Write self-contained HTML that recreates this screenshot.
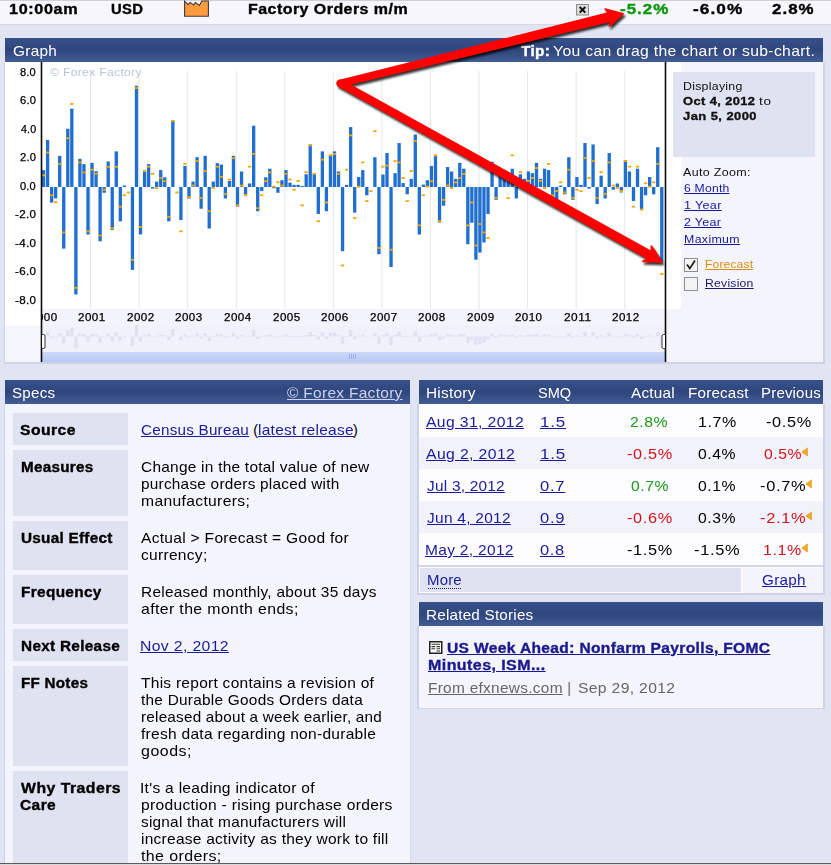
<!DOCTYPE html>
<html><head><meta charset="utf-8"><title>Factory Orders m/m</title>
<style>
html,body{margin:0;padding:0}
body{width:831px;height:865px;overflow:hidden;background:#e1e4f2;position:relative;font-family:"Liberation Sans",sans-serif;}
.r{position:absolute;display:block}
.t{position:absolute;white-space:pre;display:block;transform-origin:0 0}
</style></head><body>
<div class="r" style="left:0px;top:0px;width:831px;height:25px;background:#f6f6fc;border-top:1px solid #cfcfd8;border-bottom:1px solid #d6d8e8;box-sizing:border-box;"></div>
<span class="t" style="left:9.23px;top:0px;font-size:14.3px;line-height:18px;letter-spacing:0.553px;color:#000;transform:scaleX(1.1324);font-weight:bold;-webkit-text-stroke:0.35px #000;">10:00am</span>
<span class="t" style="left:111.34px;top:0px;font-size:14.3px;line-height:18px;letter-spacing:0.322px;color:#000;transform:scaleX(1.0357);font-weight:bold;-webkit-text-stroke:0.35px #000;">USD</span>
<span class="t" style="left:247.91px;top:0px;font-size:14.3px;line-height:18px;letter-spacing:0.415px;color:#000;transform:scaleX(1.1168);font-weight:bold;-webkit-text-stroke:0.35px #000;">Factory Orders m/m</span>
<span class="t" style="left:620.34px;top:0px;font-size:14.3px;line-height:18px;letter-spacing:0.830px;color:#0a960a;transform:scaleX(1.1853);font-weight:bold;-webkit-text-stroke:0.35px #0a960a;">-5.2%</span>
<span class="t" style="left:693.23px;top:0px;font-size:14.3px;line-height:18px;letter-spacing:0.875px;color:#000;transform:scaleX(1.2041);font-weight:bold;-webkit-text-stroke:0.35px #000;">-6.0%</span>
<span class="t" style="left:771.60px;top:0px;font-size:14.3px;line-height:18px;letter-spacing:0.889px;color:#000;transform:scaleX(1.1804);font-weight:bold;-webkit-text-stroke:0.35px #000;">2.8%</span>
<svg class="r" style="left:183px;top:0px" width="28" height="18" viewBox="0 0 28 18"><path d="M1.6 1.2 L5.2 4.6 L7 2.4 L10.6 5 L12.4 2.6 L16.4 5.4 L18.8 1 L25.4 1 L25.4 16.3 L1.6 16.3 Z" fill="#ff9a3e" stroke="#3c3c3c" stroke-width="1.1" stroke-linejoin="miter"/></svg>
<svg class="r" style="left:576px;top:4px" width="13" height="12" viewBox="0 0 13 12"><rect x="0.5" y="0.5" width="12" height="10.5" fill="#dcdcdc" stroke="#8c8c8c"/><path d="M3.7 3 L9.3 8.6 M9.3 3 L3.7 8.6" stroke="#111" stroke-width="2"/></svg>
<div class="r" style="left:5px;top:38px;width:818px;height:24px;background:linear-gradient(#38518a 0%,#2f467d 50%,#435c95 100%);"></div>
<span class="t" style="left:12.75px;top:42px;font-size:14.3px;line-height:18px;letter-spacing:0.279px;color:#fff;transform:scaleX(1.0730);">Graph</span>
<span class="t" style="left:521.14px;top:42px;font-size:14.3px;line-height:18px;letter-spacing:0.341px;color:#fff;transform:scaleX(1.0751);font-weight:bold;-webkit-text-stroke:0.35px #fff;">Tip:</span>
<span class="t" style="left:553.33px;top:42px;font-size:14.3px;line-height:18px;letter-spacing:0.289px;color:#fff;transform:scaleX(1.1020);">You can drag the chart or sub-chart.</span>
<div class="r" style="left:3.8px;top:62px;width:821.5px;height:301.6px;background:#cfd1e4;"></div>
<div class="r" style="left:5px;top:62px;width:818px;height:300px;background:#f4f4fc;"></div>
<div class="r" style="left:5px;top:62px;width:676px;height:247px;background:#fff;"></div>
<div class="r" style="left:5px;top:309px;width:36px;height:17px;background:#fff;"></div>
<div class="r" style="left:5px;top:326px;width:36px;height:36px;background:#f5f5fd;"></div>
<div class="r" style="left:42px;top:309px;width:624px;height:17px;background:#f3f3fb;"></div>
<div class="r" style="left:42px;top:326px;width:624px;height:26px;background:#f0f1fb;"></div>
<div class="r" style="left:42px;top:352px;width:624px;height:10px;background:linear-gradient(#ccd8fb,#b9c9f6);"></div>
<div class="r" style="left:667px;top:309px;width:14px;height:53px;background:#f4f4fc;"></div>
<svg class="r" style="left:0;top:0" width="831" height="400" viewBox="0 0 831 400"><rect x="90.10" y="71" width="1" height="238" fill="#e6e6e6"/><rect x="138.65" y="71" width="1" height="238" fill="#e6e6e6"/><rect x="187.20" y="71" width="1" height="238" fill="#e6e6e6"/><rect x="235.75" y="71" width="1" height="238" fill="#e6e6e6"/><rect x="284.30" y="71" width="1" height="238" fill="#e6e6e6"/><rect x="332.85" y="71" width="1" height="238" fill="#e6e6e6"/><rect x="381.40" y="71" width="1" height="238" fill="#e6e6e6"/><rect x="429.95" y="71" width="1" height="238" fill="#e6e6e6"/><rect x="478.50" y="71" width="1" height="238" fill="#e6e6e6"/><rect x="527.05" y="71" width="1" height="238" fill="#e6e6e6"/><rect x="575.60" y="71" width="1" height="238" fill="#e6e6e6"/><rect x="624.15" y="71" width="1" height="238" fill="#e6e6e6"/><rect x="41.90" y="170.10" width="3.3" height="16.90" fill="#1f6ed0"/><rect x="41.90" y="334.61" width="3.3" height="1.89" fill="#dee1f0"/><rect x="45.94" y="140.01" width="3.3" height="46.99" fill="#1f6ed0"/><rect x="45.94" y="331.24" width="3.3" height="5.26" fill="#dee1f0"/><rect x="49.98" y="187.00" width="3.3" height="15.61" fill="#1f6ed0"/><rect x="49.98" y="336.50" width="3.3" height="1.75" fill="#dee1f0"/><rect x="54.02" y="187.00" width="3.3" height="11.45" fill="#1f6ed0"/><rect x="54.02" y="336.50" width="3.3" height="1.28" fill="#dee1f0"/><rect x="58.06" y="155.82" width="3.3" height="31.18" fill="#1f6ed0"/><rect x="58.06" y="333.01" width="3.3" height="3.49" fill="#dee1f0"/><rect x="62.10" y="187.00" width="3.3" height="61.65" fill="#1f6ed0"/><rect x="62.10" y="336.50" width="3.3" height="6.91" fill="#dee1f0"/><rect x="66.14" y="128.77" width="3.3" height="58.23" fill="#1f6ed0"/><rect x="66.14" y="329.98" width="3.3" height="6.52" fill="#dee1f0"/><rect x="70.18" y="108.66" width="3.3" height="78.34" fill="#1f6ed0"/><rect x="70.18" y="327.73" width="3.3" height="8.77" fill="#dee1f0"/><rect x="74.23" y="187.00" width="3.3" height="107.42" fill="#1f6ed0"/><rect x="74.23" y="336.50" width="3.3" height="12.03" fill="#dee1f0"/><rect x="78.27" y="158.87" width="3.3" height="28.13" fill="#1f6ed0"/><rect x="78.27" y="333.35" width="3.3" height="3.15" fill="#dee1f0"/><rect x="82.31" y="164.14" width="3.3" height="22.86" fill="#1f6ed0"/><rect x="82.31" y="333.94" width="3.3" height="2.56" fill="#dee1f0"/><rect x="86.35" y="187.00" width="3.3" height="47.51" fill="#1f6ed0"/><rect x="86.35" y="336.50" width="3.3" height="5.32" fill="#dee1f0"/><rect x="90.39" y="162.89" width="3.3" height="24.11" fill="#1f6ed0"/><rect x="90.39" y="333.80" width="3.3" height="2.70" fill="#dee1f0"/><rect x="94.43" y="171.21" width="3.3" height="15.79" fill="#1f6ed0"/><rect x="94.43" y="334.73" width="3.3" height="1.77" fill="#dee1f0"/><rect x="98.47" y="187.00" width="3.3" height="54.30" fill="#1f6ed0"/><rect x="98.47" y="336.50" width="3.3" height="6.08" fill="#dee1f0"/><rect x="102.51" y="187.00" width="3.3" height="5.76" fill="#1f6ed0"/><rect x="102.51" y="336.50" width="3.3" height="0.80" fill="#dee1f0"/><rect x="106.55" y="161.50" width="3.3" height="25.50" fill="#1f6ed0"/><rect x="106.55" y="333.64" width="3.3" height="2.86" fill="#dee1f0"/><rect x="110.59" y="187.00" width="3.3" height="42.93" fill="#1f6ed0"/><rect x="110.59" y="336.50" width="3.3" height="4.81" fill="#dee1f0"/><rect x="114.63" y="151.38" width="3.3" height="35.62" fill="#1f6ed0"/><rect x="114.63" y="332.51" width="3.3" height="3.99" fill="#dee1f0"/><rect x="118.67" y="187.00" width="3.3" height="34.33" fill="#1f6ed0"/><rect x="118.67" y="336.50" width="3.3" height="3.85" fill="#dee1f0"/><rect x="122.71" y="185.55" width="3.3" height="1.45" fill="#1f6ed0"/><rect x="122.71" y="336.34" width="3.3" height="0.80" fill="#dee1f0"/><rect x="130.79" y="187.00" width="3.3" height="82.88" fill="#1f6ed0"/><rect x="130.79" y="336.50" width="3.3" height="9.28" fill="#dee1f0"/><rect x="134.84" y="85.78" width="3.3" height="101.22" fill="#1f6ed0"/><rect x="134.84" y="325.16" width="3.3" height="11.34" fill="#dee1f0"/><rect x="138.88" y="187.00" width="3.3" height="47.37" fill="#1f6ed0"/><rect x="138.88" y="336.50" width="3.3" height="5.31" fill="#dee1f0"/><rect x="142.92" y="171.49" width="3.3" height="15.51" fill="#1f6ed0"/><rect x="142.92" y="334.76" width="3.3" height="1.74" fill="#dee1f0"/><rect x="146.96" y="164.14" width="3.3" height="22.86" fill="#1f6ed0"/><rect x="146.96" y="333.94" width="3.3" height="2.56" fill="#dee1f0"/><rect x="151.00" y="187.00" width="3.3" height="1.60" fill="#1f6ed0"/><rect x="151.00" y="336.50" width="3.3" height="0.80" fill="#dee1f0"/><rect x="155.04" y="181.61" width="3.3" height="5.39" fill="#1f6ed0"/><rect x="155.04" y="335.90" width="3.3" height="0.80" fill="#dee1f0"/><rect x="159.08" y="170.10" width="3.3" height="16.90" fill="#1f6ed0"/><rect x="159.08" y="334.61" width="3.3" height="1.89" fill="#dee1f0"/><rect x="163.12" y="177.31" width="3.3" height="9.69" fill="#1f6ed0"/><rect x="163.12" y="335.42" width="3.3" height="1.08" fill="#dee1f0"/><rect x="167.16" y="187.00" width="3.3" height="34.33" fill="#1f6ed0"/><rect x="167.16" y="336.50" width="3.3" height="3.85" fill="#dee1f0"/><rect x="171.20" y="120.17" width="3.3" height="66.83" fill="#1f6ed0"/><rect x="171.20" y="329.02" width="3.3" height="7.48" fill="#dee1f0"/><rect x="179.28" y="187.00" width="3.3" height="32.94" fill="#1f6ed0"/><rect x="179.28" y="336.50" width="3.3" height="3.69" fill="#dee1f0"/><rect x="183.32" y="165.94" width="3.3" height="21.06" fill="#1f6ed0"/><rect x="183.32" y="334.14" width="3.3" height="2.36" fill="#dee1f0"/><rect x="187.36" y="187.00" width="3.3" height="11.45" fill="#1f6ed0"/><rect x="187.36" y="336.50" width="3.3" height="1.28" fill="#dee1f0"/><rect x="191.40" y="181.61" width="3.3" height="5.39" fill="#1f6ed0"/><rect x="191.40" y="335.90" width="3.3" height="0.80" fill="#dee1f0"/><rect x="195.44" y="157.20" width="3.3" height="29.80" fill="#1f6ed0"/><rect x="195.44" y="333.16" width="3.3" height="3.34" fill="#dee1f0"/><rect x="199.49" y="187.00" width="3.3" height="21.71" fill="#1f6ed0"/><rect x="199.49" y="336.50" width="3.3" height="2.43" fill="#dee1f0"/><rect x="203.53" y="155.82" width="3.3" height="31.18" fill="#1f6ed0"/><rect x="203.53" y="333.01" width="3.3" height="3.49" fill="#dee1f0"/><rect x="207.57" y="187.00" width="3.3" height="41.54" fill="#1f6ed0"/><rect x="207.57" y="336.50" width="3.3" height="4.65" fill="#dee1f0"/><rect x="211.61" y="181.61" width="3.3" height="5.39" fill="#1f6ed0"/><rect x="211.61" y="335.90" width="3.3" height="0.80" fill="#dee1f0"/><rect x="215.65" y="163.17" width="3.3" height="23.83" fill="#1f6ed0"/><rect x="215.65" y="333.83" width="3.3" height="2.67" fill="#dee1f0"/><rect x="219.69" y="164.55" width="3.3" height="22.45" fill="#1f6ed0"/><rect x="219.69" y="333.99" width="3.3" height="2.51" fill="#dee1f0"/><rect x="223.73" y="187.00" width="3.3" height="11.45" fill="#1f6ed0"/><rect x="223.73" y="336.50" width="3.3" height="1.28" fill="#dee1f0"/><rect x="227.77" y="180.92" width="3.3" height="6.08" fill="#1f6ed0"/><rect x="227.77" y="335.82" width="3.3" height="0.80" fill="#dee1f0"/><rect x="231.81" y="155.82" width="3.3" height="31.18" fill="#1f6ed0"/><rect x="231.81" y="333.01" width="3.3" height="3.49" fill="#dee1f0"/><rect x="235.85" y="187.00" width="3.3" height="19.63" fill="#1f6ed0"/><rect x="235.85" y="336.50" width="3.3" height="2.20" fill="#dee1f0"/><rect x="239.89" y="171.49" width="3.3" height="15.51" fill="#1f6ed0"/><rect x="239.89" y="334.76" width="3.3" height="1.74" fill="#dee1f0"/><rect x="243.93" y="187.00" width="3.3" height="7.56" fill="#1f6ed0"/><rect x="243.93" y="336.50" width="3.3" height="0.85" fill="#dee1f0"/><rect x="247.97" y="183.47" width="3.3" height="3.53" fill="#1f6ed0"/><rect x="247.97" y="336.10" width="3.3" height="0.80" fill="#dee1f0"/><rect x="252.01" y="125.72" width="3.3" height="61.28" fill="#1f6ed0"/><rect x="252.01" y="329.64" width="3.3" height="6.86" fill="#dee1f0"/><rect x="256.05" y="187.00" width="3.3" height="24.21" fill="#1f6ed0"/><rect x="256.05" y="336.50" width="3.3" height="2.71" fill="#dee1f0"/><rect x="260.10" y="187.00" width="3.3" height="4.10" fill="#1f6ed0"/><rect x="260.10" y="336.50" width="3.3" height="0.80" fill="#dee1f0"/><rect x="264.14" y="177.31" width="3.3" height="9.69" fill="#1f6ed0"/><rect x="264.14" y="335.42" width="3.3" height="1.08" fill="#dee1f0"/><rect x="268.18" y="168.72" width="3.3" height="18.28" fill="#1f6ed0"/><rect x="268.18" y="334.45" width="3.3" height="2.05" fill="#dee1f0"/><rect x="272.22" y="187.00" width="3.3" height="1.32" fill="#1f6ed0"/><rect x="272.22" y="336.50" width="3.3" height="0.80" fill="#dee1f0"/><rect x="276.26" y="187.00" width="3.3" height="5.76" fill="#1f6ed0"/><rect x="276.26" y="336.50" width="3.3" height="0.80" fill="#dee1f0"/><rect x="280.30" y="180.23" width="3.3" height="6.77" fill="#1f6ed0"/><rect x="280.30" y="335.74" width="3.3" height="0.80" fill="#dee1f0"/><rect x="284.34" y="170.10" width="3.3" height="16.90" fill="#1f6ed0"/><rect x="284.34" y="334.61" width="3.3" height="1.89" fill="#dee1f0"/><rect x="288.38" y="182.59" width="3.3" height="4.41" fill="#1f6ed0"/><rect x="288.38" y="336.01" width="3.3" height="0.80" fill="#dee1f0"/><rect x="292.42" y="184.85" width="3.3" height="2.15" fill="#1f6ed0"/><rect x="292.42" y="336.26" width="3.3" height="0.80" fill="#dee1f0"/><rect x="296.46" y="184.85" width="3.3" height="2.15" fill="#1f6ed0"/><rect x="296.46" y="336.26" width="3.3" height="0.80" fill="#dee1f0"/><rect x="300.50" y="185.96" width="3.3" height="1.04" fill="#1f6ed0"/><rect x="300.50" y="336.38" width="3.3" height="0.80" fill="#dee1f0"/><rect x="304.54" y="174.26" width="3.3" height="12.74" fill="#1f6ed0"/><rect x="304.54" y="335.07" width="3.3" height="1.43" fill="#dee1f0"/><rect x="308.58" y="144.44" width="3.3" height="42.56" fill="#1f6ed0"/><rect x="308.58" y="331.73" width="3.3" height="4.77" fill="#dee1f0"/><rect x="312.62" y="173.57" width="3.3" height="13.43" fill="#1f6ed0"/><rect x="312.62" y="335.00" width="3.3" height="1.50" fill="#dee1f0"/><rect x="316.66" y="187.00" width="3.3" height="26.98" fill="#1f6ed0"/><rect x="316.66" y="336.50" width="3.3" height="3.02" fill="#dee1f0"/><rect x="320.71" y="151.38" width="3.3" height="35.62" fill="#1f6ed0"/><rect x="320.71" y="332.51" width="3.3" height="3.99" fill="#dee1f0"/><rect x="324.75" y="187.00" width="3.3" height="24.21" fill="#1f6ed0"/><rect x="324.75" y="336.50" width="3.3" height="2.71" fill="#dee1f0"/><rect x="328.79" y="154.85" width="3.3" height="32.15" fill="#1f6ed0"/><rect x="328.79" y="332.90" width="3.3" height="3.60" fill="#dee1f0"/><rect x="332.83" y="151.38" width="3.3" height="35.62" fill="#1f6ed0"/><rect x="332.83" y="332.51" width="3.3" height="3.99" fill="#dee1f0"/><rect x="336.87" y="171.49" width="3.3" height="15.51" fill="#1f6ed0"/><rect x="336.87" y="334.76" width="3.3" height="1.74" fill="#dee1f0"/><rect x="340.91" y="187.00" width="3.3" height="64.15" fill="#1f6ed0"/><rect x="340.91" y="336.50" width="3.3" height="7.18" fill="#dee1f0"/><rect x="344.95" y="184.85" width="3.3" height="2.15" fill="#1f6ed0"/><rect x="344.95" y="336.26" width="3.3" height="0.80" fill="#dee1f0"/><rect x="348.99" y="127.11" width="3.3" height="59.89" fill="#1f6ed0"/><rect x="348.99" y="329.79" width="3.3" height="6.71" fill="#dee1f0"/><rect x="353.03" y="187.00" width="3.3" height="25.59" fill="#1f6ed0"/><rect x="353.03" y="336.50" width="3.3" height="2.87" fill="#dee1f0"/><rect x="357.07" y="177.04" width="3.3" height="9.96" fill="#1f6ed0"/><rect x="357.07" y="335.38" width="3.3" height="1.12" fill="#dee1f0"/><rect x="361.11" y="170.10" width="3.3" height="16.90" fill="#1f6ed0"/><rect x="361.11" y="334.61" width="3.3" height="1.89" fill="#dee1f0"/><rect x="365.15" y="187.00" width="3.3" height="8.26" fill="#1f6ed0"/><rect x="365.15" y="336.50" width="3.3" height="0.92" fill="#dee1f0"/><rect x="373.23" y="157.20" width="3.3" height="29.80" fill="#1f6ed0"/><rect x="373.23" y="333.16" width="3.3" height="3.34" fill="#dee1f0"/><rect x="377.27" y="187.00" width="3.3" height="67.20" fill="#1f6ed0"/><rect x="377.27" y="336.50" width="3.3" height="7.53" fill="#dee1f0"/><rect x="381.31" y="174.54" width="3.3" height="12.46" fill="#1f6ed0"/><rect x="381.31" y="335.10" width="3.3" height="1.40" fill="#dee1f0"/><rect x="385.36" y="153.04" width="3.3" height="33.96" fill="#1f6ed0"/><rect x="385.36" y="332.70" width="3.3" height="3.80" fill="#dee1f0"/><rect x="389.40" y="187.00" width="3.3" height="79.96" fill="#1f6ed0"/><rect x="389.40" y="336.50" width="3.3" height="8.96" fill="#dee1f0"/><rect x="393.44" y="173.15" width="3.3" height="13.85" fill="#1f6ed0"/><rect x="393.44" y="334.95" width="3.3" height="1.55" fill="#dee1f0"/><rect x="397.48" y="143.06" width="3.3" height="43.94" fill="#1f6ed0"/><rect x="397.48" y="331.58" width="3.3" height="4.92" fill="#dee1f0"/><rect x="401.52" y="183.00" width="3.3" height="4.00" fill="#1f6ed0"/><rect x="401.52" y="336.05" width="3.3" height="0.80" fill="#dee1f0"/><rect x="405.56" y="187.00" width="3.3" height="7.29" fill="#1f6ed0"/><rect x="405.56" y="336.50" width="3.3" height="0.82" fill="#dee1f0"/><rect x="409.60" y="178.84" width="3.3" height="8.16" fill="#1f6ed0"/><rect x="409.60" y="335.59" width="3.3" height="0.91" fill="#dee1f0"/><rect x="413.64" y="134.46" width="3.3" height="52.54" fill="#1f6ed0"/><rect x="413.64" y="330.62" width="3.3" height="5.88" fill="#dee1f0"/><rect x="417.68" y="187.00" width="3.3" height="47.51" fill="#1f6ed0"/><rect x="417.68" y="336.50" width="3.3" height="5.32" fill="#dee1f0"/><rect x="421.72" y="184.58" width="3.3" height="2.42" fill="#1f6ed0"/><rect x="421.72" y="336.23" width="3.3" height="0.80" fill="#dee1f0"/><rect x="425.76" y="180.23" width="3.3" height="6.77" fill="#1f6ed0"/><rect x="425.76" y="335.74" width="3.3" height="0.80" fill="#dee1f0"/><rect x="429.80" y="165.94" width="3.3" height="21.06" fill="#1f6ed0"/><rect x="429.80" y="334.14" width="3.3" height="2.36" fill="#dee1f0"/><rect x="433.84" y="156.23" width="3.3" height="30.77" fill="#1f6ed0"/><rect x="433.84" y="333.05" width="3.3" height="3.45" fill="#dee1f0"/><rect x="437.88" y="187.00" width="3.3" height="35.58" fill="#1f6ed0"/><rect x="437.88" y="336.50" width="3.3" height="3.98" fill="#dee1f0"/><rect x="441.92" y="187.00" width="3.3" height="18.66" fill="#1f6ed0"/><rect x="441.92" y="336.50" width="3.3" height="2.09" fill="#dee1f0"/><rect x="445.97" y="167.05" width="3.3" height="19.95" fill="#1f6ed0"/><rect x="445.97" y="334.27" width="3.3" height="2.23" fill="#dee1f0"/><rect x="450.01" y="171.49" width="3.3" height="15.51" fill="#1f6ed0"/><rect x="450.01" y="334.76" width="3.3" height="1.74" fill="#dee1f0"/><rect x="454.05" y="178.84" width="3.3" height="8.16" fill="#1f6ed0"/><rect x="454.05" y="335.59" width="3.3" height="0.91" fill="#dee1f0"/><rect x="458.09" y="162.89" width="3.3" height="24.11" fill="#1f6ed0"/><rect x="458.09" y="333.80" width="3.3" height="2.70" fill="#dee1f0"/><rect x="462.13" y="168.72" width="3.3" height="18.28" fill="#1f6ed0"/><rect x="462.13" y="334.45" width="3.3" height="2.05" fill="#dee1f0"/><rect x="466.17" y="187.00" width="3.3" height="57.22" fill="#1f6ed0"/><rect x="466.17" y="336.50" width="3.3" height="6.41" fill="#dee1f0"/><rect x="470.21" y="187.00" width="3.3" height="35.72" fill="#1f6ed0"/><rect x="470.21" y="336.50" width="3.3" height="4.00" fill="#dee1f0"/><rect x="474.25" y="187.00" width="3.3" height="72.75" fill="#1f6ed0"/><rect x="474.25" y="336.50" width="3.3" height="8.15" fill="#dee1f0"/><rect x="478.29" y="187.00" width="3.3" height="65.54" fill="#1f6ed0"/><rect x="478.29" y="336.50" width="3.3" height="7.34" fill="#dee1f0"/><rect x="482.33" y="187.00" width="3.3" height="55.41" fill="#1f6ed0"/><rect x="482.33" y="336.50" width="3.3" height="6.21" fill="#dee1f0"/><rect x="486.37" y="187.00" width="3.3" height="26.98" fill="#1f6ed0"/><rect x="486.37" y="336.50" width="3.3" height="3.02" fill="#dee1f0"/><rect x="490.41" y="161.78" width="3.3" height="25.22" fill="#1f6ed0"/><rect x="490.41" y="333.68" width="3.3" height="2.82" fill="#dee1f0"/><rect x="494.45" y="187.00" width="3.3" height="12.83" fill="#1f6ed0"/><rect x="494.45" y="336.50" width="3.3" height="1.44" fill="#dee1f0"/><rect x="498.49" y="170.10" width="3.3" height="16.90" fill="#1f6ed0"/><rect x="498.49" y="334.61" width="3.3" height="1.89" fill="#dee1f0"/><rect x="502.53" y="170.10" width="3.3" height="16.90" fill="#1f6ed0"/><rect x="502.53" y="334.61" width="3.3" height="1.89" fill="#dee1f0"/><rect x="506.58" y="174.96" width="3.3" height="12.04" fill="#1f6ed0"/><rect x="506.58" y="335.15" width="3.3" height="1.35" fill="#dee1f0"/><rect x="510.62" y="168.72" width="3.3" height="18.28" fill="#1f6ed0"/><rect x="510.62" y="334.45" width="3.3" height="2.05" fill="#dee1f0"/><rect x="514.66" y="187.00" width="3.3" height="11.45" fill="#1f6ed0"/><rect x="514.66" y="336.50" width="3.3" height="1.28" fill="#dee1f0"/><rect x="518.70" y="174.26" width="3.3" height="12.74" fill="#1f6ed0"/><rect x="518.70" y="335.07" width="3.3" height="1.43" fill="#dee1f0"/><rect x="522.74" y="178.84" width="3.3" height="8.16" fill="#1f6ed0"/><rect x="522.74" y="335.59" width="3.3" height="0.91" fill="#dee1f0"/><rect x="526.78" y="171.49" width="3.3" height="15.51" fill="#1f6ed0"/><rect x="526.78" y="334.76" width="3.3" height="1.74" fill="#dee1f0"/><rect x="530.82" y="173.15" width="3.3" height="13.85" fill="#1f6ed0"/><rect x="530.82" y="334.95" width="3.3" height="1.55" fill="#dee1f0"/><rect x="534.86" y="162.89" width="3.3" height="24.11" fill="#1f6ed0"/><rect x="534.86" y="333.80" width="3.3" height="2.70" fill="#dee1f0"/><rect x="538.90" y="178.84" width="3.3" height="8.16" fill="#1f6ed0"/><rect x="538.90" y="335.59" width="3.3" height="0.91" fill="#dee1f0"/><rect x="542.94" y="168.72" width="3.3" height="18.28" fill="#1f6ed0"/><rect x="542.94" y="334.45" width="3.3" height="2.05" fill="#dee1f0"/><rect x="546.98" y="170.10" width="3.3" height="16.90" fill="#1f6ed0"/><rect x="546.98" y="334.61" width="3.3" height="1.89" fill="#dee1f0"/><rect x="551.02" y="187.00" width="3.3" height="9.64" fill="#1f6ed0"/><rect x="551.02" y="336.50" width="3.3" height="1.08" fill="#dee1f0"/><rect x="555.06" y="187.00" width="3.3" height="13.80" fill="#1f6ed0"/><rect x="555.06" y="336.50" width="3.3" height="1.55" fill="#dee1f0"/><rect x="559.10" y="185.55" width="3.3" height="1.45" fill="#1f6ed0"/><rect x="559.10" y="336.34" width="3.3" height="0.80" fill="#dee1f0"/><rect x="563.14" y="187.00" width="3.3" height="7.29" fill="#1f6ed0"/><rect x="563.14" y="336.50" width="3.3" height="0.82" fill="#dee1f0"/><rect x="567.18" y="157.20" width="3.3" height="29.80" fill="#1f6ed0"/><rect x="567.18" y="333.16" width="3.3" height="3.34" fill="#dee1f0"/><rect x="571.23" y="187.00" width="3.3" height="12.83" fill="#1f6ed0"/><rect x="571.23" y="336.50" width="3.3" height="1.44" fill="#dee1f0"/><rect x="575.27" y="177.04" width="3.3" height="9.96" fill="#1f6ed0"/><rect x="575.27" y="335.38" width="3.3" height="1.12" fill="#dee1f0"/><rect x="579.31" y="184.85" width="3.3" height="2.15" fill="#1f6ed0"/><rect x="579.31" y="336.26" width="3.3" height="0.80" fill="#dee1f0"/><rect x="583.35" y="143.06" width="3.3" height="43.94" fill="#1f6ed0"/><rect x="583.35" y="331.58" width="3.3" height="4.92" fill="#dee1f0"/><rect x="587.39" y="187.00" width="3.3" height="1.60" fill="#1f6ed0"/><rect x="587.39" y="336.50" width="3.3" height="0.80" fill="#dee1f0"/><rect x="591.43" y="144.44" width="3.3" height="42.56" fill="#1f6ed0"/><rect x="591.43" y="331.73" width="3.3" height="4.77" fill="#dee1f0"/><rect x="595.47" y="187.00" width="3.3" height="16.99" fill="#1f6ed0"/><rect x="595.47" y="336.50" width="3.3" height="1.90" fill="#dee1f0"/><rect x="599.51" y="175.65" width="3.3" height="11.35" fill="#1f6ed0"/><rect x="599.51" y="335.23" width="3.3" height="1.27" fill="#dee1f0"/><rect x="603.55" y="187.00" width="3.3" height="11.45" fill="#1f6ed0"/><rect x="603.55" y="336.50" width="3.3" height="1.28" fill="#dee1f0"/><rect x="607.59" y="153.04" width="3.3" height="33.96" fill="#1f6ed0"/><rect x="607.59" y="332.70" width="3.3" height="3.80" fill="#dee1f0"/><rect x="611.63" y="187.00" width="3.3" height="2.71" fill="#1f6ed0"/><rect x="611.63" y="336.50" width="3.3" height="0.80" fill="#dee1f0"/><rect x="615.67" y="183.47" width="3.3" height="3.53" fill="#1f6ed0"/><rect x="615.67" y="336.10" width="3.3" height="0.80" fill="#dee1f0"/><rect x="619.71" y="187.00" width="3.3" height="5.48" fill="#1f6ed0"/><rect x="619.71" y="336.50" width="3.3" height="0.80" fill="#dee1f0"/><rect x="623.75" y="160.12" width="3.3" height="26.88" fill="#1f6ed0"/><rect x="623.75" y="333.49" width="3.3" height="3.01" fill="#dee1f0"/><rect x="627.79" y="171.49" width="3.3" height="15.51" fill="#1f6ed0"/><rect x="627.79" y="334.76" width="3.3" height="1.74" fill="#dee1f0"/><rect x="631.84" y="187.00" width="3.3" height="14.08" fill="#1f6ed0"/><rect x="631.84" y="336.50" width="3.3" height="1.58" fill="#dee1f0"/><rect x="635.88" y="168.72" width="3.3" height="18.28" fill="#1f6ed0"/><rect x="635.88" y="334.45" width="3.3" height="2.05" fill="#dee1f0"/><rect x="639.92" y="187.00" width="3.3" height="22.82" fill="#1f6ed0"/><rect x="639.92" y="336.50" width="3.3" height="2.56" fill="#dee1f0"/><rect x="643.96" y="187.00" width="3.3" height="8.26" fill="#1f6ed0"/><rect x="643.96" y="336.50" width="3.3" height="0.92" fill="#dee1f0"/><rect x="648.00" y="177.04" width="3.3" height="9.96" fill="#1f6ed0"/><rect x="648.00" y="335.38" width="3.3" height="1.12" fill="#dee1f0"/><rect x="652.04" y="187.00" width="3.3" height="7.29" fill="#1f6ed0"/><rect x="652.04" y="336.50" width="3.3" height="0.82" fill="#dee1f0"/><rect x="656.08" y="147.22" width="3.3" height="39.78" fill="#1f6ed0"/><rect x="656.08" y="332.04" width="3.3" height="4.46" fill="#dee1f0"/><rect x="660.12" y="187.00" width="3.3" height="74.83" fill="#1f6ed0"/><rect x="660.12" y="336.50" width="3.3" height="8.38" fill="#dee1f0"/><rect x="41.90" y="174.47" width="3.3" height="1.8" fill="#f5a700"/><rect x="45.94" y="151.59" width="3.3" height="1.8" fill="#f5a700"/><rect x="49.98" y="194.36" width="3.3" height="1.8" fill="#f5a700"/><rect x="54.02" y="201.29" width="3.3" height="1.8" fill="#f5a700"/><rect x="58.06" y="162.96" width="3.3" height="1.8" fill="#f5a700"/><rect x="62.10" y="231.53" width="3.3" height="1.8" fill="#f5a700"/><rect x="66.14" y="137.30" width="3.3" height="1.8" fill="#f5a700"/><rect x="70.18" y="103.04" width="3.3" height="1.8" fill="#f5a700"/><rect x="74.23" y="287.01" width="3.3" height="1.8" fill="#f5a700"/><rect x="78.27" y="161.57" width="3.3" height="1.8" fill="#f5a700"/><rect x="82.31" y="171.56" width="3.3" height="1.8" fill="#f5a700"/><rect x="86.35" y="230.42" width="3.3" height="1.8" fill="#f5a700"/><rect x="90.39" y="168.79" width="3.3" height="1.8" fill="#f5a700"/><rect x="94.43" y="172.95" width="3.3" height="1.8" fill="#f5a700"/><rect x="98.47" y="234.58" width="3.3" height="1.8" fill="#f5a700"/><rect x="102.51" y="188.81" width="3.3" height="1.8" fill="#f5a700"/><rect x="106.55" y="165.87" width="3.3" height="1.8" fill="#f5a700"/><rect x="110.59" y="227.37" width="3.3" height="1.8" fill="#f5a700"/><rect x="114.63" y="165.87" width="3.3" height="1.8" fill="#f5a700"/><rect x="118.67" y="205.73" width="3.3" height="1.8" fill="#f5a700"/><rect x="122.71" y="194.36" width="3.3" height="1.8" fill="#f5a700"/><rect x="126.75" y="191.58" width="3.3" height="1.8" fill="#f5a700"/><rect x="130.79" y="258.85" width="3.3" height="1.8" fill="#f5a700"/><rect x="134.84" y="87.09" width="3.3" height="1.8" fill="#f5a700"/><rect x="138.88" y="225.98" width="3.3" height="1.8" fill="#f5a700"/><rect x="142.92" y="169.90" width="3.3" height="1.8" fill="#f5a700"/><rect x="146.96" y="165.74" width="3.3" height="1.8" fill="#f5a700"/><rect x="151.00" y="172.95" width="3.3" height="1.8" fill="#f5a700"/><rect x="155.04" y="187.14" width="3.3" height="1.8" fill="#f5a700"/><rect x="159.08" y="177.11" width="3.3" height="1.8" fill="#f5a700"/><rect x="163.12" y="180.30" width="3.3" height="1.8" fill="#f5a700"/><rect x="167.16" y="215.85" width="3.3" height="1.8" fill="#f5a700"/><rect x="171.20" y="119.97" width="3.3" height="1.8" fill="#f5a700"/><rect x="175.24" y="191.58" width="3.3" height="1.8" fill="#f5a700"/><rect x="179.28" y="230.42" width="3.3" height="1.8" fill="#f5a700"/><rect x="183.32" y="162.96" width="3.3" height="1.8" fill="#f5a700"/><rect x="187.36" y="196.02" width="3.3" height="1.8" fill="#f5a700"/><rect x="191.40" y="184.65" width="3.3" height="1.8" fill="#f5a700"/><rect x="195.44" y="160.19" width="3.3" height="1.8" fill="#f5a700"/><rect x="199.49" y="197.13" width="3.3" height="1.8" fill="#f5a700"/><rect x="203.53" y="170.17" width="3.3" height="1.8" fill="#f5a700"/><rect x="207.57" y="210.31" width="3.3" height="1.8" fill="#f5a700"/><rect x="211.61" y="187.14" width="3.3" height="1.8" fill="#f5a700"/><rect x="215.65" y="165.87" width="3.3" height="1.8" fill="#f5a700"/><rect x="219.69" y="175.86" width="3.3" height="1.8" fill="#f5a700"/><rect x="223.73" y="192.97" width="3.3" height="1.8" fill="#f5a700"/><rect x="227.77" y="178.63" width="3.3" height="1.8" fill="#f5a700"/><rect x="231.81" y="157.27" width="3.3" height="1.8" fill="#f5a700"/><rect x="235.85" y="204.48" width="3.3" height="1.8" fill="#f5a700"/><rect x="239.89" y="184.65" width="3.3" height="1.8" fill="#f5a700"/><rect x="243.93" y="194.36" width="3.3" height="1.8" fill="#f5a700"/><rect x="247.97" y="165.74" width="3.3" height="1.8" fill="#f5a700"/><rect x="252.01" y="152.98" width="3.3" height="1.8" fill="#f5a700"/><rect x="256.05" y="207.26" width="3.3" height="1.8" fill="#f5a700"/><rect x="260.10" y="194.36" width="3.3" height="1.8" fill="#f5a700"/><rect x="264.14" y="180.30" width="3.3" height="1.8" fill="#f5a700"/><rect x="268.18" y="171.56" width="3.3" height="1.8" fill="#f5a700"/><rect x="272.22" y="185.76" width="3.3" height="1.8" fill="#f5a700"/><rect x="276.26" y="181.41" width="3.3" height="1.8" fill="#f5a700"/><rect x="280.30" y="184.65" width="3.3" height="1.8" fill="#f5a700"/><rect x="284.34" y="172.95" width="3.3" height="1.8" fill="#f5a700"/><rect x="288.38" y="178.63" width="3.3" height="1.8" fill="#f5a700"/><rect x="292.42" y="188.81" width="3.3" height="1.8" fill="#f5a700"/><rect x="296.46" y="180.02" width="3.3" height="1.8" fill="#f5a700"/><rect x="300.50" y="204.48" width="3.3" height="1.8" fill="#f5a700"/><rect x="304.54" y="171.28" width="3.3" height="1.8" fill="#f5a700"/><rect x="308.58" y="144.51" width="3.3" height="1.8" fill="#f5a700"/><rect x="312.62" y="172.95" width="3.3" height="1.8" fill="#f5a700"/><rect x="316.66" y="220.29" width="3.3" height="1.8" fill="#f5a700"/><rect x="320.71" y="158.80" width="3.3" height="1.8" fill="#f5a700"/><rect x="324.75" y="201.57" width="3.3" height="1.8" fill="#f5a700"/><rect x="328.79" y="154.36" width="3.3" height="1.8" fill="#f5a700"/><rect x="332.83" y="152.98" width="3.3" height="1.8" fill="#f5a700"/><rect x="336.87" y="172.95" width="3.3" height="1.8" fill="#f5a700"/><rect x="340.91" y="264.54" width="3.3" height="1.8" fill="#f5a700"/><rect x="344.95" y="168.79" width="3.3" height="1.8" fill="#f5a700"/><rect x="348.99" y="134.53" width="3.3" height="1.8" fill="#f5a700"/><rect x="353.03" y="217.24" width="3.3" height="1.8" fill="#f5a700"/><rect x="357.07" y="185.76" width="3.3" height="1.8" fill="#f5a700"/><rect x="361.11" y="161.57" width="3.3" height="1.8" fill="#f5a700"/><rect x="365.15" y="200.18" width="3.3" height="1.8" fill="#f5a700"/><rect x="369.19" y="190.20" width="3.3" height="1.8" fill="#f5a700"/><rect x="373.23" y="130.23" width="3.3" height="1.8" fill="#f5a700"/><rect x="377.27" y="247.06" width="3.3" height="1.8" fill="#f5a700"/><rect x="381.31" y="165.74" width="3.3" height="1.8" fill="#f5a700"/><rect x="385.36" y="164.63" width="3.3" height="1.8" fill="#f5a700"/><rect x="389.40" y="248.86" width="3.3" height="1.8" fill="#f5a700"/><rect x="393.44" y="160.19" width="3.3" height="1.8" fill="#f5a700"/><rect x="397.48" y="161.57" width="3.3" height="1.8" fill="#f5a700"/><rect x="401.52" y="177.11" width="3.3" height="1.8" fill="#f5a700"/><rect x="405.56" y="200.18" width="3.3" height="1.8" fill="#f5a700"/><rect x="409.60" y="170.17" width="3.3" height="1.8" fill="#f5a700"/><rect x="413.64" y="140.08" width="3.3" height="1.8" fill="#f5a700"/><rect x="417.68" y="224.45" width="3.3" height="1.8" fill="#f5a700"/><rect x="421.72" y="194.36" width="3.3" height="1.8" fill="#f5a700"/><rect x="425.76" y="185.76" width="3.3" height="1.8" fill="#f5a700"/><rect x="429.80" y="180.30" width="3.3" height="1.8" fill="#f5a700"/><rect x="433.84" y="154.36" width="3.3" height="1.8" fill="#f5a700"/><rect x="437.88" y="220.29" width="3.3" height="1.8" fill="#f5a700"/><rect x="441.92" y="198.93" width="3.3" height="1.8" fill="#f5a700"/><rect x="445.97" y="184.65" width="3.3" height="1.8" fill="#f5a700"/><rect x="450.01" y="187.14" width="3.3" height="1.8" fill="#f5a700"/><rect x="454.05" y="181.41" width="3.3" height="1.8" fill="#f5a700"/><rect x="458.09" y="177.25" width="3.3" height="1.8" fill="#f5a700"/><rect x="462.13" y="172.95" width="3.3" height="1.8" fill="#f5a700"/><rect x="466.17" y="224.45" width="3.3" height="1.8" fill="#f5a700"/><rect x="470.21" y="201.57" width="3.3" height="1.8" fill="#f5a700"/><rect x="474.25" y="244.56" width="3.3" height="1.8" fill="#f5a700"/><rect x="478.29" y="223.07" width="3.3" height="1.8" fill="#f5a700"/><rect x="482.33" y="231.53" width="3.3" height="1.8" fill="#f5a700"/><rect x="486.37" y="237.08" width="3.3" height="1.8" fill="#f5a700"/><rect x="494.45" y="197.13" width="3.3" height="1.8" fill="#f5a700"/><rect x="506.58" y="197.13" width="3.3" height="1.8" fill="#f5a700"/><rect x="510.62" y="154.36" width="3.3" height="1.8" fill="#f5a700"/><rect x="518.70" y="171.28" width="3.3" height="1.8" fill="#f5a700"/><rect x="526.78" y="180.02" width="3.3" height="1.8" fill="#f5a700"/><rect x="530.82" y="177.11" width="3.3" height="1.8" fill="#f5a700"/><rect x="534.86" y="167.12" width="3.3" height="1.8" fill="#f5a700"/><rect x="538.90" y="180.02" width="3.3" height="1.8" fill="#f5a700"/><rect x="542.94" y="187.14" width="3.3" height="1.8" fill="#f5a700"/><rect x="546.98" y="162.96" width="3.3" height="1.8" fill="#f5a700"/><rect x="551.02" y="194.36" width="3.3" height="1.8" fill="#f5a700"/><rect x="555.06" y="190.20" width="3.3" height="1.8" fill="#f5a700"/><rect x="559.10" y="181.41" width="3.3" height="1.8" fill="#f5a700"/><rect x="563.14" y="191.58" width="3.3" height="1.8" fill="#f5a700"/><rect x="567.18" y="168.79" width="3.3" height="1.8" fill="#f5a700"/><rect x="571.23" y="197.13" width="3.3" height="1.8" fill="#f5a700"/><rect x="575.27" y="188.81" width="3.3" height="1.8" fill="#f5a700"/><rect x="579.31" y="190.20" width="3.3" height="1.8" fill="#f5a700"/><rect x="583.35" y="157.14" width="3.3" height="1.8" fill="#f5a700"/><rect x="587.39" y="177.11" width="3.3" height="1.8" fill="#f5a700"/><rect x="591.43" y="160.19" width="3.3" height="1.8" fill="#f5a700"/><rect x="595.47" y="197.13" width="3.3" height="1.8" fill="#f5a700"/><rect x="599.51" y="171.28" width="3.3" height="1.8" fill="#f5a700"/><rect x="603.55" y="192.97" width="3.3" height="1.8" fill="#f5a700"/><rect x="607.59" y="161.57" width="3.3" height="1.8" fill="#f5a700"/><rect x="611.63" y="184.65" width="3.3" height="1.8" fill="#f5a700"/><rect x="615.67" y="187.14" width="3.3" height="1.8" fill="#f5a700"/><rect x="619.71" y="190.20" width="3.3" height="1.8" fill="#f5a700"/><rect x="623.75" y="160.19" width="3.3" height="1.8" fill="#f5a700"/><rect x="627.79" y="165.74" width="3.3" height="1.8" fill="#f5a700"/><rect x="631.84" y="205.73" width="3.3" height="1.8" fill="#f5a700"/><rect x="635.88" y="165.74" width="3.3" height="1.8" fill="#f5a700"/><rect x="639.92" y="208.64" width="3.3" height="1.8" fill="#f5a700"/><rect x="643.96" y="182.38" width="3.3" height="1.8" fill="#f5a700"/><rect x="648.00" y="185.76" width="3.3" height="1.8" fill="#f5a700"/><rect x="652.04" y="181.41" width="3.3" height="1.8" fill="#f5a700"/><rect x="656.08" y="162.96" width="3.3" height="1.8" fill="#f5a700"/><rect x="660.12" y="273.00" width="3.3" height="1.8" fill="#f5a700"/><rect x="40.7" y="62" width="1.6" height="300" fill="#0a0a0a"/><rect x="664.7" y="62" width="1.6" height="300" fill="#0a0a0a"/><path d="M42 334.5 h1.5 q1.5 0 1.5 1.5 v11 q0 1.5 -1.5 1.5 h-1.5" fill="#fff" stroke="#333" stroke-width="1"/><path d="M665 334.5 h-1.5 q-1.5 0 -1.5 1.5 v11 q0 1.5 1.5 1.5 h1.5" fill="#fff" stroke="#333" stroke-width="1"/><path d="M349.5 354 v5 M351.5 354 v5 M353.5 354 v5 M355.5 354 v5" stroke="#9fb0e0" stroke-width="1"/></svg>
<span class="t" style="left:20.38px;top:66px;font-size:10.5px;line-height:13px;letter-spacing:0.180px;color:#000;transform:scaleX(1.0535);-webkit-text-stroke:0.25px #000;">8.0</span>
<span class="t" style="left:20.37px;top:94px;font-size:10.5px;line-height:13px;letter-spacing:0.217px;color:#000;transform:scaleX(1.0625);-webkit-text-stroke:0.25px #000;">6.0</span>
<span class="t" style="left:20.89px;top:123px;font-size:10.5px;line-height:13px;letter-spacing:0.142px;color:#000;transform:scaleX(1.0222);-webkit-text-stroke:0.25px #000;">4.0</span>
<span class="t" style="left:20.33px;top:151px;font-size:10.5px;line-height:13px;letter-spacing:0.217px;color:#000;transform:scaleX(1.0654);-webkit-text-stroke:0.25px #000;">2.0</span>
<span class="t" style="left:20.47px;top:180px;font-size:10.5px;line-height:13px;letter-spacing:0.180px;color:#000;transform:scaleX(1.0475);-webkit-text-stroke:0.25px #000;">0.0</span>
<span class="t" style="left:15.44px;top:208px;font-size:10.5px;line-height:13px;letter-spacing:0.310px;color:#000;transform:scaleX(1.1063);-webkit-text-stroke:0.25px #000;">-2.0</span>
<span class="t" style="left:15.44px;top:237px;font-size:10.5px;line-height:13px;letter-spacing:0.310px;color:#000;transform:scaleX(1.1063);-webkit-text-stroke:0.25px #000;">-4.0</span>
<span class="t" style="left:15.44px;top:265px;font-size:10.5px;line-height:13px;letter-spacing:0.310px;color:#000;transform:scaleX(1.1063);-webkit-text-stroke:0.25px #000;">-6.0</span>
<span class="t" style="left:15.44px;top:294px;font-size:10.5px;line-height:13px;letter-spacing:0.310px;color:#000;transform:scaleX(1.1063);-webkit-text-stroke:0.25px #000;">-8.0</span>
<span class="t" style="left:50.30px;top:65px;font-size:11px;line-height:14px;letter-spacing:0.268px;color:#b9c3dd;transform:scaleX(1.1071);">© Forex Factory</span>
<span class="t" style="left:78.33px;top:311px;font-size:10.5px;line-height:13px;letter-spacing:0.390px;color:#000;transform:scaleX(1.1057);-webkit-text-stroke:0.25px #000;">2001</span>
<span class="t" style="left:126.88px;top:311px;font-size:10.5px;line-height:13px;letter-spacing:0.390px;color:#000;transform:scaleX(1.1057);-webkit-text-stroke:0.25px #000;">2002</span>
<span class="t" style="left:175.43px;top:311px;font-size:10.5px;line-height:13px;letter-spacing:0.390px;color:#000;transform:scaleX(1.1045);-webkit-text-stroke:0.25px #000;">2003</span>
<span class="t" style="left:223.97px;top:311px;font-size:10.5px;line-height:13px;letter-spacing:0.365px;color:#000;transform:scaleX(1.1105);-webkit-text-stroke:0.25px #000;">2004</span>
<span class="t" style="left:272.53px;top:311px;font-size:10.5px;line-height:13px;letter-spacing:0.390px;color:#000;transform:scaleX(1.1043);-webkit-text-stroke:0.25px #000;">2005</span>
<span class="t" style="left:321.08px;top:311px;font-size:10.5px;line-height:13px;letter-spacing:0.390px;color:#000;transform:scaleX(1.1045);-webkit-text-stroke:0.25px #000;">2006</span>
<span class="t" style="left:369.63px;top:311px;font-size:10.5px;line-height:13px;letter-spacing:0.390px;color:#000;transform:scaleX(1.1066);-webkit-text-stroke:0.25px #000;">2007</span>
<span class="t" style="left:418.18px;top:311px;font-size:10.5px;line-height:13px;letter-spacing:0.390px;color:#000;transform:scaleX(1.1048);-webkit-text-stroke:0.25px #000;">2008</span>
<span class="t" style="left:466.73px;top:311px;font-size:10.5px;line-height:13px;letter-spacing:0.390px;color:#000;transform:scaleX(1.1059);-webkit-text-stroke:0.25px #000;">2009</span>
<span class="t" style="left:515.28px;top:311px;font-size:10.5px;line-height:13px;letter-spacing:0.390px;color:#000;transform:scaleX(1.1027);-webkit-text-stroke:0.25px #000;">2010</span>
<span class="t" style="left:563.81px;top:311px;font-size:10.5px;line-height:13px;letter-spacing:0.465px;color:#000;transform:scaleX(1.1285);-webkit-text-stroke:0.25px #000;">2011</span>
<span class="t" style="left:612.38px;top:311px;font-size:10.5px;line-height:13px;letter-spacing:0.390px;color:#000;transform:scaleX(1.1057);-webkit-text-stroke:0.25px #000;">2012</span>
<div class="r" style="left:42.3px;top:309px;width:30px;height:17px;overflow:hidden">
<span class="t" style="left:-12.57px;top:2px;font-size:10.5px;line-height:13px;letter-spacing:0.400px;color:#000;transform:scaleX(1.1024);-webkit-text-stroke:0.25px #000;">2000</span>
</div>
<div class="r" style="left:673px;top:72px;width:142px;height:85px;background:#dfe2f0;"></div>
<span class="t" style="left:682.70px;top:79px;font-size:11.3px;line-height:14px;letter-spacing:0.227px;color:#111;transform:scaleX(1.0955);">Displaying</span>
<span class="t" style="left:683.20px;top:94px;font-size:11.3px;line-height:14px;letter-spacing:0.364px;color:#111;transform:scaleX(1.1376);font-weight:bold;-webkit-text-stroke:0.35px #111;">Oct 4, 2012</span>
<span class="t" style="left:758.57px;top:94px;font-size:11.3px;line-height:14px;letter-spacing:0.513px;color:#111;transform:scaleX(1.2053);">to</span>
<span class="t" style="left:683.23px;top:109px;font-size:11.3px;line-height:14px;letter-spacing:0.381px;color:#111;transform:scaleX(1.1467);font-weight:bold;-webkit-text-stroke:0.35px #111;">Jan 5, 2000</span>
<span class="t" style="left:683.27px;top:165px;font-size:11.3px;line-height:14px;letter-spacing:0.297px;color:#111;transform:scaleX(1.1063);">Auto Zoom:</span>
<span class="t" style="left:684.18px;top:181px;font-size:11.3px;line-height:14px;letter-spacing:0.204px;color:#1a1a9e;transform:scaleX(1.0759);text-decoration:underline;">6 Month</span>
<span class="t" style="left:683.89px;top:198px;font-size:11.3px;line-height:14px;letter-spacing:0.289px;color:#1a1a9e;transform:scaleX(1.1165);text-decoration:underline;">1 Year</span>
<span class="t" style="left:684.14px;top:215px;font-size:11.3px;line-height:14px;letter-spacing:0.274px;color:#1a1a9e;transform:scaleX(1.1076);text-decoration:underline;">2 Year</span>
<span class="t" style="left:683.90px;top:232px;font-size:11.3px;line-height:14px;letter-spacing:0.314px;color:#1a1a9e;transform:scaleX(1.0943);text-decoration:underline;">Maximum</span>
<svg class="r" style="left:684px;top:258px" width="15" height="34" viewBox="0 0 15 34"><rect x="0.5" y="0.5" width="13" height="13" fill="#f4f4f4" stroke="#8e8f8f"/><path d="M3 6.5 L5.8 10.5 L11 2.5" fill="none" stroke="#222" stroke-width="1.8"/><rect x="0.5" y="19.5" width="13" height="13" fill="#f4f4f4" stroke="#8e8f8f"/></svg>
<span class="t" style="left:705.11px;top:257px;font-size:11.3px;line-height:14px;letter-spacing:0.152px;color:#e08a10;transform:scaleX(1.0659);text-decoration:underline;">Forecast</span>
<span class="t" style="left:705.11px;top:276px;font-size:11.3px;line-height:14px;letter-spacing:0.206px;color:#1a1a6e;transform:scaleX(1.0812);text-decoration:underline;">Revision</span>
<div class="r" style="left:5px;top:380px;width:405px;height:24px;background:linear-gradient(#38518a 0%,#2f467d 50%,#435c95 100%);"></div>
<span class="t" style="left:12.21px;top:384px;font-size:14.3px;line-height:18px;letter-spacing:0.211px;color:#fff;transform:scaleX(1.0605);">Specs</span>
<span class="t" style="left:286.82px;top:384px;font-size:14.3px;line-height:18px;letter-spacing:0.260px;color:#c9d2ee;transform:scaleX(1.0847);text-decoration:underline;">© Forex Factory</span>
<div class="r" style="left:3.8px;top:404px;width:1.2px;height:470px;background:#cfd1e4;"></div>
<div class="r" style="left:410px;top:404px;width:1.1px;height:470px;background:#d8dbed;"></div>
<div class="r" style="left:5px;top:404px;width:405px;height:470px;background:#f4f4fc;"></div>
<div class="r" style="left:13px;top:413px;width:115px;height:32px;background:#dfe2f0;"></div>
<div class="r" style="left:13px;top:450px;width:115px;height:66px;background:#dfe2f0;"></div>
<div class="r" style="left:13px;top:521px;width:115px;height:49px;background:#dfe2f0;"></div>
<div class="r" style="left:13px;top:575px;width:115px;height:49px;background:#dfe2f0;"></div>
<div class="r" style="left:13px;top:629px;width:115px;height:32px;background:#dfe2f0;"></div>
<div class="r" style="left:13px;top:666px;width:115px;height:100px;background:#dfe2f0;"></div>
<div class="r" style="left:13px;top:771px;width:115px;height:100px;background:#dfe2f0;"></div>
<span class="t" style="left:19.75px;top:421px;font-size:14.3px;line-height:18px;letter-spacing:0.413px;color:#000;transform:scaleX(1.0965);font-weight:bold;-webkit-text-stroke:0.35px #000;">Source</span>
<span class="t" style="left:20.54px;top:458px;font-size:14.3px;line-height:18px;letter-spacing:0.277px;color:#000;transform:scaleX(1.0642);font-weight:bold;-webkit-text-stroke:0.35px #000;">Measures</span>
<span class="t" style="left:20.61px;top:529px;font-size:14.3px;line-height:18px;letter-spacing:0.243px;color:#000;transform:scaleX(1.0708);font-weight:bold;-webkit-text-stroke:0.35px #000;">Usual Effect</span>
<span class="t" style="left:20.53px;top:583px;font-size:14.3px;line-height:18px;letter-spacing:0.298px;color:#000;transform:scaleX(1.0765);font-weight:bold;-webkit-text-stroke:0.35px #000;">Frequency</span>
<span class="t" style="left:20.53px;top:637px;font-size:14.3px;line-height:18px;letter-spacing:0.270px;color:#000;transform:scaleX(1.0737);font-weight:bold;-webkit-text-stroke:0.35px #000;">Next Release</span>
<span class="t" style="left:20.54px;top:674px;font-size:14.3px;line-height:18px;letter-spacing:0.246px;color:#000;transform:scaleX(1.0632);font-weight:bold;-webkit-text-stroke:0.35px #000;">FF Notes</span>
<span class="t" style="left:20.76px;top:779px;font-size:14.3px;line-height:18px;letter-spacing:0.423px;color:#000;transform:scaleX(1.1058);font-weight:bold;-webkit-text-stroke:0.35px #000;">Why Traders</span>
<span class="t" style="left:20.09px;top:796px;font-size:14.3px;line-height:18px;letter-spacing:0.404px;color:#000;transform:scaleX(1.0826);font-weight:bold;-webkit-text-stroke:0.35px #000;">Care</span>
<span class="t" style="left:140.75px;top:421px;font-size:14.3px;line-height:18px;letter-spacing:0.223px;color:#1a1a9e;transform:scaleX(1.0651);text-decoration:underline;">Census Bureau</span>
<span class="t" style="left:253.25px;top:421px;font-size:14.3px;line-height:18px;letter-spacing:0.000px;color:#000;transform:scaleX(1.0000);">(</span>
<span class="t" style="left:257.61px;top:421px;font-size:14.3px;line-height:18px;letter-spacing:0.236px;color:#1a1a9e;transform:scaleX(1.0845);text-decoration:underline;">latest release</span>
<span class="t" style="left:353.00px;top:421px;font-size:14.3px;line-height:18px;letter-spacing:0.000px;color:#000;transform:scaleX(1.0000);">)</span>
<span class="t" style="left:140.75px;top:458px;font-size:14.3px;line-height:18px;letter-spacing:0.228px;color:#000;transform:scaleX(1.0798);">Change in the total value of new</span>
<span class="t" style="left:140.60px;top:475px;font-size:14.3px;line-height:18px;letter-spacing:0.224px;color:#000;transform:scaleX(1.0740);">purchase orders placed with</span>
<span class="t" style="left:140.60px;top:492px;font-size:14.3px;line-height:18px;letter-spacing:0.304px;color:#000;transform:scaleX(1.0954);">manufacturers;</span>
<span class="t" style="left:140.79px;top:529px;font-size:14.3px;line-height:18px;letter-spacing:0.264px;color:#000;transform:scaleX(1.0892);">Actual &gt; Forecast = Good for</span>
<span class="t" style="left:140.83px;top:546px;font-size:14.3px;line-height:18px;letter-spacing:0.274px;color:#000;transform:scaleX(1.0861);">currency;</span>
<span class="t" style="left:140.87px;top:583px;font-size:14.3px;line-height:18px;letter-spacing:0.241px;color:#000;transform:scaleX(1.0778);">Released monthly, about 35 days</span>
<span class="t" style="left:140.80px;top:600px;font-size:14.3px;line-height:18px;letter-spacing:0.330px;color:#000;transform:scaleX(1.1103);">after the month ends;</span>
<span class="t" style="left:141.09px;top:674px;font-size:14.3px;line-height:18px;letter-spacing:0.237px;color:#000;transform:scaleX(1.0862);">This report contains a revision of</span>
<span class="t" style="left:141.20px;top:691px;font-size:14.3px;line-height:18px;letter-spacing:0.234px;color:#000;transform:scaleX(1.0761);">the Durable Goods Orders data</span>
<span class="t" style="left:140.60px;top:708px;font-size:14.3px;line-height:18px;letter-spacing:0.198px;color:#000;transform:scaleX(1.0694);">released about a week earlier, and</span>
<span class="t" style="left:141.21px;top:725px;font-size:14.3px;line-height:18px;letter-spacing:0.252px;color:#000;transform:scaleX(1.0872);">fresh data regarding non-durable</span>
<span class="t" style="left:140.81px;top:742px;font-size:14.3px;line-height:18px;letter-spacing:0.441px;color:#000;transform:scaleX(1.1189);">goods;</span>
<span class="t" style="left:140.11px;top:779px;font-size:14.3px;line-height:18px;letter-spacing:0.242px;color:#000;transform:scaleX(1.0910);">It&#x27;s a leading indicator of</span>
<span class="t" style="left:140.59px;top:796px;font-size:14.3px;line-height:18px;letter-spacing:0.267px;color:#000;transform:scaleX(1.0932);">production - rising purchase orders</span>
<span class="t" style="left:140.83px;top:813px;font-size:14.3px;line-height:18px;letter-spacing:0.211px;color:#000;transform:scaleX(1.0755);">signal that manufacturers will</span>
<span class="t" style="left:140.61px;top:830px;font-size:14.3px;line-height:18px;letter-spacing:0.225px;color:#000;transform:scaleX(1.0862);">increase activity as they work to fill</span>
<span class="t" style="left:141.18px;top:847px;font-size:14.3px;line-height:18px;letter-spacing:0.338px;color:#000;transform:scaleX(1.1183);">the orders;</span>
<span class="t" style="left:140.15px;top:637px;font-size:14.3px;line-height:18px;letter-spacing:0.330px;color:#1a1a9e;transform:scaleX(1.1018);text-decoration:underline;">Nov 2, 2012</span>
<div class="r" style="left:419px;top:380px;width:404px;height:24px;background:linear-gradient(#38518a 0%,#2f467d 50%,#435c95 100%);"></div>
<span class="t" style="left:425.67px;top:384px;font-size:14.3px;line-height:18px;letter-spacing:0.217px;color:#fff;transform:scaleX(1.0785);">History</span>
<span class="t" style="left:537.64px;top:384px;font-size:14.3px;line-height:18px;letter-spacing:-0.017px;color:#fff;transform:scaleX(1.0188);">SMQ</span>
<span class="t" style="left:630.68px;top:384px;font-size:14.3px;line-height:18px;letter-spacing:0.217px;color:#fff;transform:scaleX(1.0702);">Actual</span>
<span class="t" style="left:688.19px;top:384px;font-size:14.3px;line-height:18px;letter-spacing:0.185px;color:#fff;transform:scaleX(1.0633);">Forecast</span>
<span class="t" style="left:760.70px;top:384px;font-size:14.3px;line-height:18px;letter-spacing:0.163px;color:#fff;transform:scaleX(1.0515);">Previous</span>
<div class="r" style="left:417.2px;top:404px;width:408.1px;height:190.5px;background:#cfd1e4;"></div>
<div class="r" style="left:419px;top:404px;width:404.3px;height:189px;background:#fdfdff;"></div>
<div class="r" style="left:419px;top:564.7px;width:404.3px;height:2.2px;background:#d4d7e8;"></div>
<div class="r" style="left:419px;top:404.5px;width:404.3px;height:32px;background:#fdfdff;"></div>
<span class="t" style="left:425.69px;top:413px;font-size:14.3px;line-height:18px;letter-spacing:0.333px;color:#1a1a9e;transform:scaleX(1.1005);text-decoration:underline;">Aug 31, 2012</span>
<span class="t" style="left:539.64px;top:413px;font-size:14.3px;line-height:18px;letter-spacing:0.665px;color:#1a1a9e;transform:scaleX(1.1856);text-decoration:underline;">1.5</span>
<span class="t" style="left:630.48px;top:413px;font-size:14.3px;line-height:18px;letter-spacing:0.489px;color:#199a19;transform:scaleX(1.1062);">2.8%</span>
<span class="t" style="left:697.76px;top:413px;font-size:14.3px;line-height:18px;letter-spacing:0.539px;color:#000;transform:scaleX(1.1196);">1.7%</span>
<span class="t" style="left:766.27px;top:413px;font-size:14.3px;line-height:18px;letter-spacing:0.572px;color:#000;transform:scaleX(1.1390);">-0.5%</span>
<div class="r" style="left:419px;top:436.5px;width:404.3px;height:32px;background:#f2f2fb;"></div>
<span class="t" style="left:425.69px;top:445px;font-size:14.3px;line-height:18px;letter-spacing:0.344px;color:#1a1a9e;transform:scaleX(1.1026);text-decoration:underline;">Aug 2, 2012</span>
<span class="t" style="left:539.64px;top:445px;font-size:14.3px;line-height:18px;letter-spacing:0.665px;color:#1a1a9e;transform:scaleX(1.1856);text-decoration:underline;">1.5</span>
<span class="t" style="left:626.77px;top:445px;font-size:14.3px;line-height:18px;letter-spacing:0.572px;color:#d4121a;transform:scaleX(1.1390);">-0.5%</span>
<span class="t" style="left:698.42px;top:445px;font-size:14.3px;line-height:18px;letter-spacing:0.489px;color:#000;transform:scaleX(1.1020);">0.4%</span>
<span class="t" style="left:763.87px;top:445px;font-size:14.3px;line-height:18px;letter-spacing:0.489px;color:#d4121a;transform:scaleX(1.1020);">0.5%</span>
<svg class="r" style="left:800.7px;top:447.4px" width="9" height="11" viewBox="0 0 9 11"><path d="M0.9 4.9 L6.4 0.9 L6.4 8.9 Z" fill="#f8ab17" stroke="#e09a1c" stroke-width="0.7" stroke-linejoin="round"/></svg>
<div class="r" style="left:419px;top:468.5px;width:404.3px;height:32px;background:#fdfdff;"></div>
<span class="t" style="left:426.60px;top:477px;font-size:14.3px;line-height:18px;letter-spacing:0.212px;color:#1a1a9e;transform:scaleX(1.0771);text-decoration:underline;">Jul 3, 2012</span>
<span class="t" style="left:540.33px;top:477px;font-size:14.3px;line-height:18px;letter-spacing:0.628px;color:#1a1a9e;transform:scaleX(1.1594);text-decoration:underline;">0.7</span>
<span class="t" style="left:630.62px;top:477px;font-size:14.3px;line-height:18px;letter-spacing:0.489px;color:#199a19;transform:scaleX(1.1020);">0.7%</span>
<span class="t" style="left:698.42px;top:477px;font-size:14.3px;line-height:18px;letter-spacing:0.489px;color:#000;transform:scaleX(1.1020);">0.1%</span>
<span class="t" style="left:760.27px;top:477px;font-size:14.3px;line-height:18px;letter-spacing:0.609px;color:#000;transform:scaleX(1.1478);">-0.7%</span>
<svg class="r" style="left:805.2px;top:479.4px" width="9" height="11" viewBox="0 0 9 11"><path d="M0.9 4.9 L6.4 0.9 L6.4 8.9 Z" fill="#f8ab17" stroke="#e09a1c" stroke-width="0.7" stroke-linejoin="round"/></svg>
<div class="r" style="left:419px;top:500.5px;width:404.3px;height:32px;background:#f2f2fb;"></div>
<span class="t" style="left:426.60px;top:509px;font-size:14.3px;line-height:18px;letter-spacing:0.249px;color:#1a1a9e;transform:scaleX(1.0825);text-decoration:underline;">Jun 4, 2012</span>
<span class="t" style="left:540.33px;top:509px;font-size:14.3px;line-height:18px;letter-spacing:0.628px;color:#1a1a9e;transform:scaleX(1.1582);text-decoration:underline;">0.9</span>
<span class="t" style="left:626.77px;top:509px;font-size:14.3px;line-height:18px;letter-spacing:0.572px;color:#d4121a;transform:scaleX(1.1390);">-0.6%</span>
<span class="t" style="left:698.42px;top:509px;font-size:14.3px;line-height:18px;letter-spacing:0.489px;color:#000;transform:scaleX(1.1020);">0.3%</span>
<span class="t" style="left:760.27px;top:509px;font-size:14.3px;line-height:18px;letter-spacing:0.609px;color:#d4121a;transform:scaleX(1.1478);">-2.1%</span>
<svg class="r" style="left:805.2px;top:511.4px" width="9" height="11" viewBox="0 0 9 11"><path d="M0.9 4.9 L6.4 0.9 L6.4 8.9 Z" fill="#f8ab17" stroke="#e09a1c" stroke-width="0.7" stroke-linejoin="round"/></svg>
<div class="r" style="left:419px;top:532.5px;width:404.3px;height:32.2px;background:#fdfdff;"></div>
<span class="t" style="left:424.68px;top:541px;font-size:14.3px;line-height:18px;letter-spacing:0.284px;color:#1a1a9e;transform:scaleX(1.0853);text-decoration:underline;">May 2, 2012</span>
<span class="t" style="left:540.33px;top:541px;font-size:14.3px;line-height:18px;letter-spacing:0.590px;color:#1a1a9e;transform:scaleX(1.1494);text-decoration:underline;">0.8</span>
<span class="t" style="left:626.77px;top:541px;font-size:14.3px;line-height:18px;letter-spacing:0.572px;color:#000;transform:scaleX(1.1390);">-1.5%</span>
<span class="t" style="left:694.32px;top:541px;font-size:14.3px;line-height:18px;letter-spacing:0.609px;color:#000;transform:scaleX(1.1478);">-1.5%</span>
<span class="t" style="left:763.21px;top:541px;font-size:14.3px;line-height:18px;letter-spacing:0.539px;color:#d4121a;transform:scaleX(1.1196);">1.1%</span>
<svg class="r" style="left:800.7px;top:543.4px" width="9" height="11" viewBox="0 0 9 11"><path d="M0.9 4.9 L6.4 0.9 L6.4 8.9 Z" fill="#f8ab17" stroke="#e09a1c" stroke-width="0.7" stroke-linejoin="round"/></svg>
<div class="r" style="left:420px;top:568px;width:321px;height:24px;background:#dfe2f0;"></div>
<div class="r" style="left:743px;top:567.5px;width:80px;height:25px;background:#f4f4fc;"></div>
<span class="t" style="left:427.01px;top:571px;font-size:14.3px;line-height:18px;letter-spacing:0.159px;color:#1a1a9e;transform:scaleX(1.0470);">More</span>
<div class="r" style="left:428px;top:587px;width:33px;height:1px;background:transparent;border-bottom:1px dotted #1a1a9e;"></div>
<span class="t" style="left:762.05px;top:571px;font-size:14.3px;line-height:18px;letter-spacing:0.271px;color:#1a1a9e;transform:scaleX(1.0684);text-decoration:underline;">Graph</span>
<div class="r" style="left:419px;top:602px;width:404px;height:24px;background:linear-gradient(#38518a 0%,#2f467d 50%,#435c95 100%);"></div>
<span class="t" style="left:425.68px;top:606px;font-size:14.3px;line-height:18px;letter-spacing:0.196px;color:#fff;transform:scaleX(1.0671);">Related Stories</span>
<div class="r" style="left:417.2px;top:626px;width:408.1px;height:83.4px;background:#cfd1e4;"></div>
<div class="r" style="left:419px;top:626px;width:404.3px;height:81.8px;background:#f4f4fc;"></div>
<svg class="r" style="left:429px;top:641px" width="14" height="13" viewBox="0 0 14 13"><rect x="0.75" y="0.75" width="12" height="11.5" fill="#fff" stroke="#222" stroke-width="1.5"/><path d="M2.5 3.2 H11 M2.5 5.6 H6 M7.5 5.6 H11 M2.5 7.8 H6 M7.5 7.8 H11 M7.5 10 H11" stroke="#333" stroke-width="1.1"/></svg>
<span class="t" style="left:446.81px;top:639px;font-size:14.3px;line-height:18px;letter-spacing:0.315px;color:#1a1a8e;transform:scaleX(1.0896);font-weight:bold;-webkit-text-stroke:0.35px #1a1a8e;text-decoration:underline;">US Week Ahead: Nonfarm Payrolls, FOMC</span>
<span class="t" style="left:428.42px;top:656px;font-size:14.3px;line-height:18px;letter-spacing:0.390px;color:#1a1a8e;transform:scaleX(1.1188);font-weight:bold;-webkit-text-stroke:0.35px #1a1a8e;text-decoration:underline;">Minutes, ISM...</span>
<span class="t" style="left:427.87px;top:679px;font-size:14.3px;line-height:18px;letter-spacing:0.268px;color:#666;transform:scaleX(1.0777);text-decoration:underline;">From efxnews.com</span>
<span class="t" style="left:567.25px;top:679px;font-size:14.3px;line-height:18px;letter-spacing:0.000px;color:#666;transform:scaleX(1.0000);">|</span>
<span class="t" style="left:577.62px;top:679px;font-size:14.3px;line-height:18px;letter-spacing:0.319px;color:#666;transform:scaleX(1.0949);">Sep 29, 2012</span>
<svg class="r" style="left:0;top:0" width="831" height="400" viewBox="0 0 831 400">
<defs><filter id="sh" x="-5%" y="-5%" width="110%" height="115%"><feGaussianBlur stdDeviation="1.2"/></filter></defs>
<g transform="translate(1.6,2.5)" filter="url(#sh)" fill="#000" stroke="#000" stroke-width="1.6" stroke-linejoin="round" opacity="0.8"><path d="M339.71 80.48 L608.99 12.87 L605.17 9.07 L623.20 13.70 L609.38 26.16 L611.00 21.03 L341.09 86.12 A2.90 2.90 0 0 1 339.71 80.48 Z"/><path d="M341.95 80.50 L651.51 251.78 L651.31 245.95 L661.90 261.90 L642.77 261.34 L647.82 258.42 L338.85 86.10 A3.20 3.20 0 0 1 341.95 80.50 Z"/></g>
<g fill="#ff0000" stroke="#ff0000" stroke-width="1.6" stroke-linejoin="round"><path d="M339.71 80.48 L608.99 12.87 L605.17 9.07 L623.20 13.70 L609.38 26.16 L611.00 21.03 L341.09 86.12 A2.90 2.90 0 0 1 339.71 80.48 Z"/><path d="M341.95 80.50 L651.51 251.78 L651.31 245.95 L661.90 261.90 L642.77 261.34 L647.82 258.42 L338.85 86.10 A3.20 3.20 0 0 1 341.95 80.50 Z"/></g></svg>
<div class="r" style="left:0px;top:862.8px;width:831px;height:1.4px;background:#5a5a5a;"></div>
<div class="r" style="left:0px;top:864.2px;width:831px;height:0.8px;background:#d8d8d8;"></div>
</body></html>
